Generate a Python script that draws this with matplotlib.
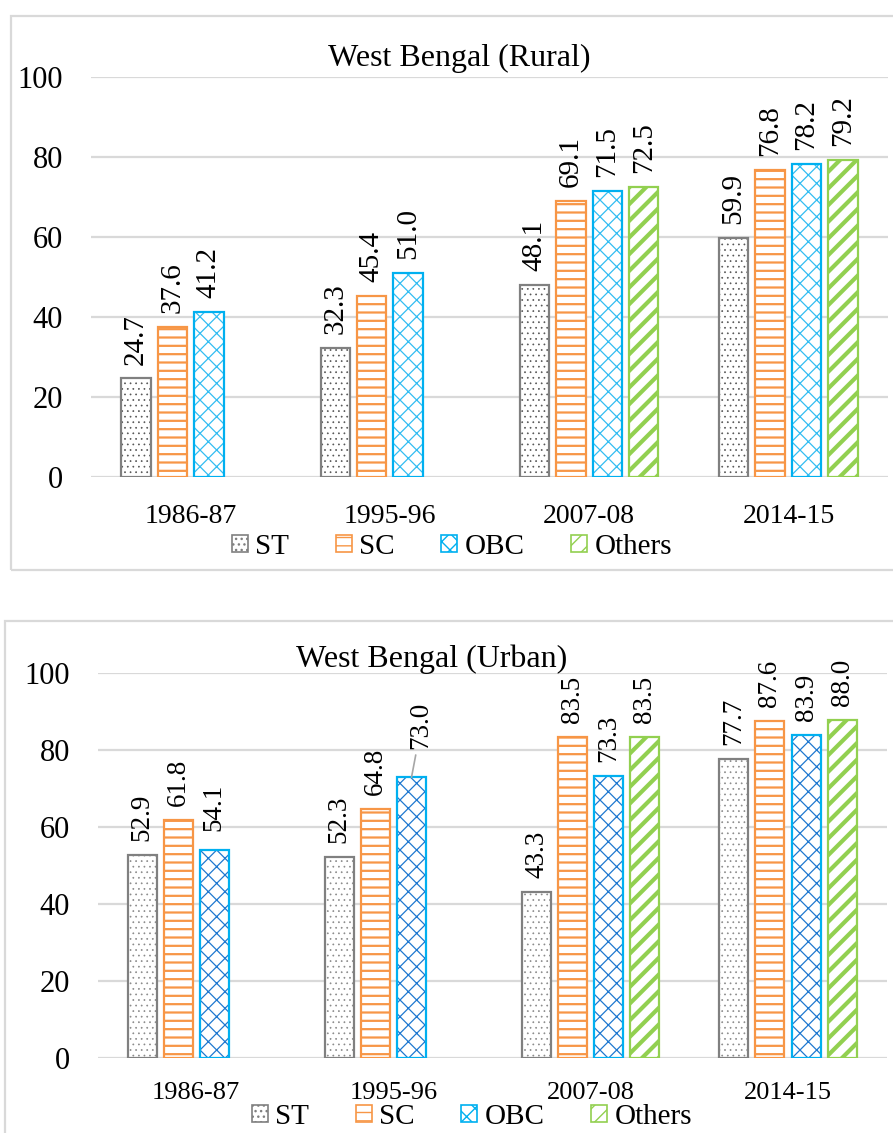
import numpy as np
import matplotlib
matplotlib.use("Agg")
import matplotlib.pyplot as plt
from matplotlib.patches import Patch, Rectangle

plt.rcParams["font.family"] = ["Liberation Serif", "DejaVu Serif"]

years = ["1986-87", "1995-96", "2007-08", "2014-15"]
groups = ["ST", "SC", "OBC", "Others"]

rural_st = [24.7, 32.3, 48.1, 59.9]
rural_sc = [37.6, 45.4, 69.1, 76.8]
rural_obc = [41.2, 51.0, 71.5, 78.2]
rural_others = [np.nan, np.nan, 72.5, 79.2]

urban_st = [52.9, 52.3, 43.3, 77.7]
urban_sc = [61.8, 64.8, 83.5, 87.6]
urban_obc = [54.1, 73.0, 73.3, 83.9]
urban_others = [np.nan, np.nan, 83.5, 88.0]

W, H = 893, 1133
GRID = "#d9d9d9"

# (edge colour, hatch colour, hatch, hatch linewidth) per group
STYLE_TOP = {
    "ST": ("#808080", "#555555", "...", 0.5),
    "SC": ("#f79646", "#f79646", "--", 1.6),
    "OBC": ("#00b0f0", "#33bdf2", "xx", 0.9),
    "Others": ("#92d050", "#92d050", "//", 3.0),
}
STYLE_BOT = {
    "ST": ("#808080", "#8a8a8a", "...", 0.5),
    "SC": ("#f79646", "#f79646", "--", 1.6),
    "OBC": ("#00b0f0", "#1f78d0", "xx", 0.9),
    "Others": ("#92d050", "#92d050", "//", 3.0),
}


def px_axes(fig, left, right, top, bottom):
    return fig.add_axes([left / W, 1 - bottom / H, (right - left) / W, (bottom - top) / H])


def hatched_bars(ax, x, vals, width, edge, hcol, hatch, hlw):
    with plt.rc_context({"hatch.linewidth": hlw, "hatch.color": hcol}):
        fill = ax.bar(x, vals, width, color="white", edgecolor=hcol, hatch=hatch, lw=0, zorder=2)
        for p in fill:
            if hasattr(p, "set_hatch_linewidth"):
                p.set_hatch_linewidth(hlw)
    ax.bar(x, vals, width, fill=False, edgecolor=edge, lw=1.6, zorder=3)


def panel(fig, box, title, title_xy, data, style, fs_lab, fs_cat, xpad, leg_xy, nudge):
    left, right, top, bottom = box
    ax = px_axes(fig, left, right, top, bottom)
    x = np.arange(len(years))
    step, width = 0.183, 0.147
    for i, (g, vals) in enumerate(zip(groups, data)):
        vals = np.asarray(vals, float)
        ok = ~np.isnan(vals)
        xs = x[ok] + (i - 1.5) * step
        edge, hcol, hatch, hlw = style[g]
        hatched_bars(ax, xs, vals[ok], width, edge, hcol, hatch, hlw)
        for xi, v, j in zip(xs, vals[ok], x[ok]):
            dx, dy, line = nudge.get((g, j), (0, 0, False))
            kw = {}
            if line:
                kw["arrowprops"] = dict(arrowstyle="-", color="#a6a6a6", lw=1.2, shrinkA=2, shrinkB=0)
            ax.annotate(f"{v:.1f}", (xi, v), xytext=(dx, 10 + dy), textcoords="offset points",
                        rotation=90, ha="center", va="bottom", fontsize=fs_lab, **kw)
    ax.set_xlim(-0.5, 3.5)
    ax.set_ylim(0, 100)
    ax.set_yticks(range(0, 101, 20))
    ax.set_xticks(x)
    ax.set_xticklabels(years, fontsize=fs_cat)
    ax.tick_params(axis="y", length=0, pad=20, labelsize=22)
    ax.tick_params(axis="x", length=0, pad=xpad)
    for s in ax.spines.values():
        s.set_visible(False)
    ax.grid(axis="y", color=GRID, lw=1.6, zorder=0)
    ax.set_axisbelow(True)
    fig.text(title_xy[0] / W, 1 - title_xy[1] / H, title, fontsize=23, ha="center", va="center")
    handles = [Patch(facecolor="white", edgecolor=style[g][0], hatch=style[g][2], lw=1.2) for g in groups]
    fig.legend(handles, groups, loc="center", bbox_to_anchor=(leg_xy[0] / W, 1 - leg_xy[1] / H),
               ncol=4, frameon=False, fontsize=21, handlelength=0.55, handleheight=0.55,
               handletextpad=0.25, columnspacing=1.6, borderaxespad=0, borderpad=0)
    return ax


fig = plt.figure(figsize=(W / 100, H / 100), dpi=100)

# outer frames of the two panels
for (l, t, b) in [(11, 16, 570), (5, 621, 1140)]:
    fig.patches.append(Rectangle((l / W, 1 - b / H), (W + 10 - l) / W, (b - t) / H,
                                 transform=fig.transFigure, fill=False, edgecolor=GRID,
                                 lw=1.6, clip_on=False))

panel(fig, (91, 888, 77, 477.3), "West Bengal (Rural)", (459, 58),
      [rural_st, rural_sc, rural_obc, rural_others], STYLE_TOP, 21, 20, 19, (452, 547), {})

panel(fig, (97.6, 886.6, 673.3, 1058.3), "West Bengal (Urban)", (432, 659),
      [urban_st, urban_sc, urban_obc, urban_others], STYLE_BOT, 19.5, 19, 17, (472, 1117),
      {("OBC", 0): (0, 4, False), ("OBC", 1): (7, 10, True)})

fig.savefig("out.png", dpi=100)
